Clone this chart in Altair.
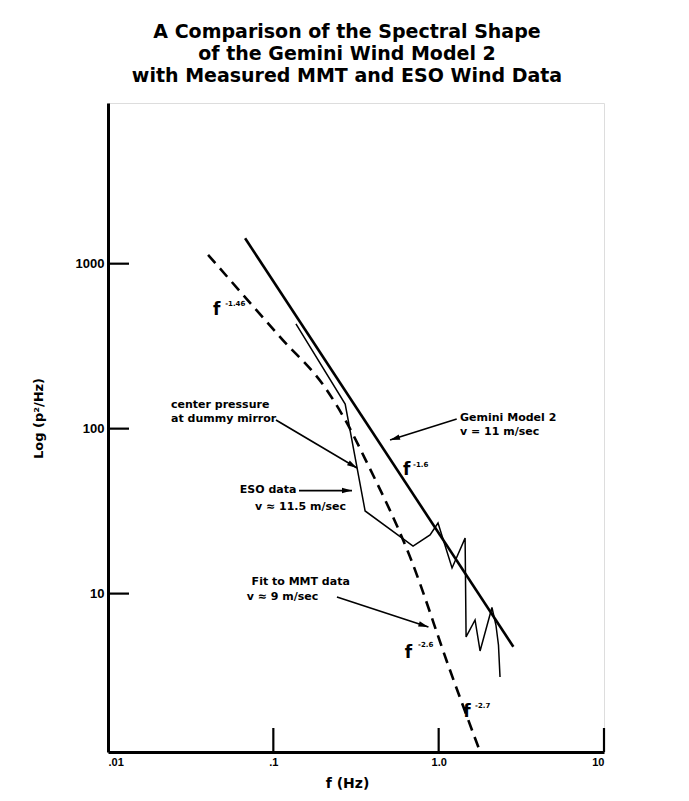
import math
import altair as alt
import pandas as pd

# ---------------- data ----------------
title_lines = [
    "A Comparison of the Spectral Shape",
    "of the Gemini Wind Model 2",
    "with Measured MMT and ESO Wind Data",
]
x_ticks = [0.01, 0.1, 1.0, 10.0]
x_tick_labels = [".01", ".1", "1.0", "10"]
y_ticks = [10, 100, 1000]
y_tick_labels = ["10", "100", "1000"]

# Gemini Model 2 (straight power law)
gem_f = [0.0675, 2.83]
gem_p = [1426, 4.76]

# Fit to MMT data (dashed)
mmt_f = [0.0403, 0.110, 0.211, 0.272, 0.369, 0.671, 1.17, 1.78]
mmt_p = [1130, 359, 171, 113, 62, 16.7, 3.44, 1.10]

# ESO data (thin solid)
eso_f = [0.137, 0.272, 0.359, 0.700, 0.887, 0.991, 1.205, 1.445, 1.465,
         1.66, 1.78, 2.10, 2.22, 2.30, 2.35]
eso_p = [431, 141, 31.7, 19.4, 22.7, 26.8, 14.3, 21.7, 5.46,
         6.92, 4.49, 8.24, 6.45, 4.88, 3.12]

# annotation texts (left aligned)
note_text = ["center pressure", "at dummy mirror", "v \u2248 11.5 m/sec",
             "Gemini Model 2", "v = 11 m/sec", "Fit to MMT data", "v \u2248 9 m/sec"]
note_f = [0.02405, 0.02405, 0.0774, 1.347, 1.347, 0.0739, 0.069]
note_p = [139, 114.4, 33.6, 116, 95.4, 11.8, 9.58]
# annotation texts (right aligned, ending at the arrow start)
rnote_text = ["ESO data"]
rnote_f = [0.138]
rnote_p = [42.5]

# exponent labels: "f" and superscripts
fsym_f = [0.0455, 0.641, 0.656, 1.485]
fsym_p = [524, 56.1, 4.36, 1.91]
sup_text = ["-1.46", "-1.6", "-2.6", "-2.7"]
sup_f = [0.0511, 0.700, 0.750, 1.66]
sup_p = [570, 60.2, 4.88, 2.08]

# arrows (start -> tip)
arr_f0 = [0.1037, 0.143, 1.286, 0.2425]
arr_p0 = [112.9, 42.1, 114.4, 9.53]
arr_f1 = [0.3206, 0.299, 0.508, 0.867]
arr_p1 = [57.7, 42.1, 85.3, 6.27]

# ---------------- layout ----------------
W, H = 496, 649
X_DOM = [0.01, 10.0]
Y_DOM = [1.096, 9420.0]


def to_px(f, p):
    lx0, lx1 = math.log10(X_DOM[0]), math.log10(X_DOM[1])
    ly0, ly1 = math.log10(Y_DOM[0]), math.log10(Y_DOM[1])
    return (W * (math.log10(f) - lx0) / (lx1 - lx0),
            H * (1 - (math.log10(p) - ly0) / (ly1 - ly0)))


xs = alt.Scale(type="log", domain=X_DOM, nice=False)
ys = alt.Scale(type="log", domain=Y_DOM, nice=False)

FONT = "DejaVu Sans"

gem_df = pd.DataFrame({"f": gem_f, "p": gem_p})
mmt_df = pd.DataFrame({"f": mmt_f, "p": mmt_p})
eso_df = pd.DataFrame({"f": eso_f, "p": eso_p, "o": list(range(len(eso_f)))})

x_lab_expr = " : ".join(
    f"datum.value >= {v * 0.9} ? '{l}'" for v, l in sorted(zip(x_ticks, x_tick_labels), reverse=True)[:-1]
) + f" : '{x_tick_labels[0]}'"
y_lab_expr = " : ".join(
    f"datum.value >= {v * 0.9} ? '{l}'" for v, l in sorted(zip(y_ticks, y_tick_labels), reverse=True)[:-1]
) + f" : '{y_tick_labels[0]}'"

base_x = alt.X("f:Q", scale=xs, axis=alt.Axis(
    values=x_ticks, ticks=False, grid=False, domainWidth=3, domainColor="black",
    labelExpr=x_lab_expr,
    labelFont="Liberation Sans", labelFontWeight="bold", labelFontSize=11, labelColor="black",
    labelPadding=4, title="f (Hz)", titleFont=FONT, titleFontSize=14, titleFontWeight="bold",
    titleX=239, titleY=31, titleBaseline="middle", titleAlign="center", titleColor="black"))
base_y = alt.Y("p:Q", scale=ys, axis=alt.Axis(
    values=y_ticks, ticks=False, grid=False, domainWidth=3, domainColor="black",
    labelExpr=y_lab_expr,
    labelFont="Liberation Sans", labelFontWeight="bold", labelFontSize=13, labelColor="black",
    labelPadding=4, title="Log (p\u00b2/Hz)", titleFont=FONT, titleFontSize=13,
    titleFontWeight="bold", titleX=-70, titleY=315, titleBaseline="middle",
    titleAlign="center", titleAngle=270, titleColor="black"))

gem = alt.Chart(gem_df).mark_line(color="black", strokeWidth=2.6).encode(x=base_x, y=base_y)
mmt = alt.Chart(mmt_df).mark_line(color="black", strokeWidth=2.6, strokeDash=[11, 7],
                                   interpolate="monotone").encode(x="f:Q", y="p:Q")
eso = alt.Chart(eso_df).mark_line(color="black", strokeWidth=1.5).encode(
    x="f:Q", y="p:Q", order="o:Q")

# inward axis ticks
ytick_df = pd.DataFrame({"p": y_ticks})
xtick_df = pd.DataFrame({"f": x_ticks[1:]})
yt = alt.Chart(ytick_df).mark_rule(color="black", strokeWidth=2.2).encode(
    y="p:Q", x=alt.value(0), x2=alt.value(21))
xt = alt.Chart(xtick_df).mark_rule(color="black", strokeWidth=2.2).encode(
    x="f:Q", y=alt.value(H), y2=alt.value(H - 24))

# annotation text
note_df = pd.DataFrame({"f": note_f, "p": note_p, "t": note_text})
notes = alt.Chart(note_df).mark_text(align="left", baseline="middle", font=FONT,
                                     fontSize=11, fontWeight="bold", color="black").encode(
    x="f:Q", y="p:Q", text="t:N")
rnote_df = pd.DataFrame({"f": rnote_f, "p": rnote_p, "t": rnote_text})
rnotes = alt.Chart(rnote_df).mark_text(align="right", baseline="middle", font=FONT,
                                       fontSize=11, fontWeight="bold", color="black").encode(
    x="f:Q", y="p:Q", text="t:N")

fs_df = pd.DataFrame({"f": fsym_f, "p": fsym_p, "t": ["f"] * len(fsym_f)})
fsyms = alt.Chart(fs_df).mark_text(align="center", baseline="middle", font=FONT,
                                   fontSize=17, fontWeight="bold", color="black").encode(
    x="f:Q", y="p:Q", text="t:N")
sup_df = pd.DataFrame({"f": sup_f, "p": sup_p, "t": sup_text})
sups = alt.Chart(sup_df).mark_text(align="left", baseline="middle", font=FONT,
                                   fontSize=7, fontWeight="bold", color="black").encode(
    x="f:Q", y="p:Q", text="t:N")

# arrows
angles = []
for a, b, c, d in zip(arr_f0, arr_p0, arr_f1, arr_p1):
    x0, y0 = to_px(a, b)
    x1, y1 = to_px(c, d)
    angles.append(math.degrees(math.atan2(y1 - y0, x1 - x0)) % 360)
arr_df = pd.DataFrame({"f0": arr_f0, "p0": arr_p0, "f1": arr_f1, "p1": arr_p1, "ang": angles})
arr_lines = alt.Chart(arr_df).mark_rule(color="black", strokeWidth=1.6).encode(
    x="f0:Q", y="p0:Q", x2="f1:Q", y2="p1:Q")
arr_heads = alt.Chart(arr_df).mark_point(
    shape="M0,0 L-2,-0.55 L-2,0.55 Z", filled=True, color="black", opacity=1, size=100).encode(
    x="f1:Q", y="p1:Q", angle=alt.Angle("ang:Q", scale=None))

chart = alt.layer(gem, mmt, eso, yt, xt, arr_lines, arr_heads, notes, rnotes, fsyms, sups).properties(
    width=W, height=H,
    title=alt.TitleParams(text=title_lines, font=FONT, fontSize=19, fontWeight="bold",
                          color="black", anchor="middle", lineHeight=22, offset=17, dx=-9),
    autosize=alt.AutoSizeParams(type="none"),
    padding={"left": 100, "top": 95, "right": 77, "bottom": 41},
).configure_view(stroke=None).configure(background="white")

chart.save("out.html", embed_options={"renderer": "svg", "actions": False})
